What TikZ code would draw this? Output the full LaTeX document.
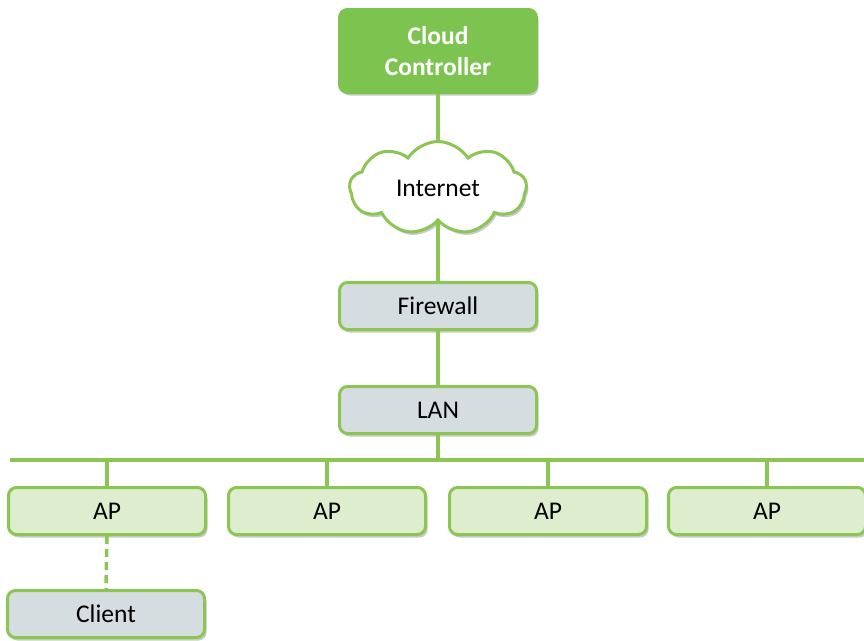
\documentclass[tikz,border=0pt]{standalone}
\usepackage{fontspec}
\setmainfont{Carlito}
\usetikzlibrary{shapes.symbols,shadows}
\definecolor{lgreen}{RGB}{139,198,83}
\definecolor{dgreen}{RGB}{125,195,80}
\definecolor{apfill}{RGB}{222,237,206}
\definecolor{boxfill}{RGB}{214,221,225}
\tikzset{
  box/.style={draw=lgreen, line width=3pt, rounded corners=8pt, fill=boxfill,
    minimum width=197pt, minimum height=47pt, inner sep=0pt,
    font=\fontsize{25.5}{31}\selectfont,
    drop shadow={shadow xshift=2pt, shadow yshift=-3pt, opacity=0.35, fill=black!60}},
  apbox/.style={box, fill=apfill},
  link/.style={draw=lgreen, line width=3.5pt}
}
\begin{document}
\begin{tikzpicture}[x=1pt,y=-1pt]
        \useasboundingbox (0,0) rectangle (864,640);
        \node[box, fill=dgreen, draw=dgreen, text=white, minimum height=83pt,
          align=center, font=\fontsize{25.5}{31}\selectfont\bfseries] (ctrl) at (438,51) {Cloud\\Controller};
        \node[cloud, cloud puffs=9, cloud puff arc=115, aspect=2, draw=lgreen, line width=3pt, fill=white,
          minimum width=177pt, minimum height=93pt, font=\fontsize{25.5}{31}\selectfont,
          drop shadow={shadow xshift=2pt, shadow yshift=-3pt, opacity=0.35, fill=black!60}] (inet) at (438,188) {Internet};
        \node[box] (fw) at (438,306) {Firewall};
        \node[box] (lan) at (438,410) {LAN};
        \coordinate (busL) at (10,460);
        \coordinate (busR) at (864,460);
        \draw[link] (busL) -- (busR);
        \draw[link] (ctrl.south) -- (inet.north -| ctrl.south);
        \draw[link] (inet.south -| fw.north) -- (fw.north);
        \draw[link] (fw.south) -- (lan.north);
        \draw[link] (lan.south) -- (lan.south |- busL);
        \foreach \i/\x in {1/107,2/327,3/548,4/767} {
            \node[apbox] (ap\i) at (\x,511) {AP};
            \draw[link] (ap\i.north) -- (ap\i.north |- busL);
        }
        \node[box] (client) at (106,614) {Client};
        \draw[link, dash pattern=on 8pt off 5pt] (ap1.south) -- (client.north);
    \end{tikzpicture}
\end{document}
